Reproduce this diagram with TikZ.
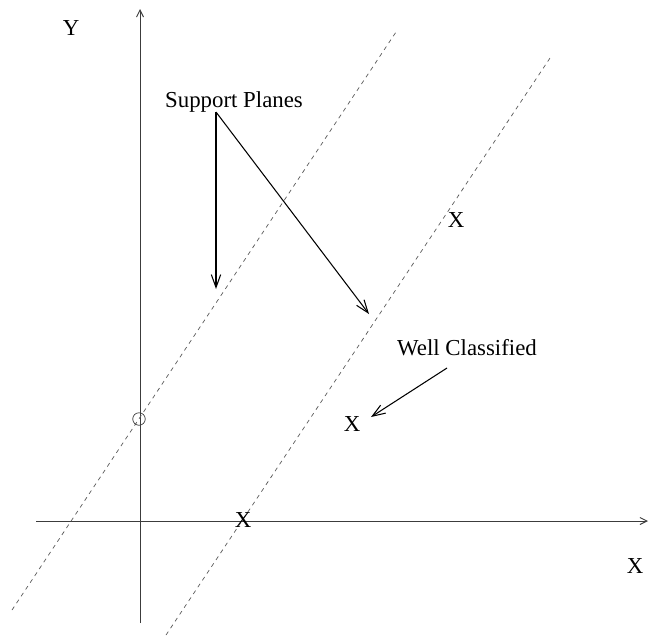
\documentclass[tikz,border=0pt]{standalone}
\usepackage{fontspec}
\setmainfont{Liberation Serif}
\usetikzlibrary{arrows.meta}
\definecolor{axgray}{RGB}{60,60,60}
\definecolor{dashgray}{RGB}{90,90,90}

\begin{document}
\begin{tikzpicture}[
  x=0.03cm, y=-0.03cm,
  % Axis lines
  ax/.style  = {draw=axgray, line width=0.8pt,
                -{Straight Barb[length=6pt,width=6pt]}},
  % Support planes (dashed)
  pl/.style  = {draw=dashgray, line width=0.6pt, dash pattern=on 3.5pt off 3.5pt},
  % Pointer arrows
  arr/.style = {draw=black, line width=0.9pt,
                -{Straight Barb[length=11pt,width=8pt,line width=0.9pt]}},
  % Labels
  lbl/.style = {font=\fontsize{19.5}{23}\selectfont, inner sep=0pt}
]
\useasboundingbox (0,0) rectangle (649,636);

% Axes
\coordinate(YB) at (140,623);
\coordinate(YT) at (140,9);
\coordinate(XL) at (36,521);
\coordinate(XR) at (648,521);
\draw[ax](YB)--(YT);
\draw[ax](XL)--(XR);

% Support planes: same slope, two offsets
\coordinate(P1a) at (12,610);
\coordinate(P1b) at (396,32);
\coordinate(P2a) at (166,635);
\coordinate(P2b) at (550,58);
\draw[pl](P1a)--(P1b);
\draw[pl](P2a)--(P2b);

% Circle on first plane
\node[draw=axgray, line width=0.6pt, circle, minimum size=12.5*0.03cm, inner sep=0pt](O) at (139,419){};

% Axis names and points
\node[lbl](YN)  at (71,28)   {Y};
\node[lbl](XN)  at (635,566) {X};
\node[lbl](X1)  at (456,220) {X};
\node[lbl](X2)  at (352,424) {X};
\node[lbl](X3)  at (243,520) {X};

% Annotations
\node[lbl](SP) at (234,102) {Support Planes};
\node[lbl](WC) at (467,348) {Well Classified};

% Pointers from the annotations
\coordinate(SPo) at (216,112);
\coordinate(SP1) at (216,289);
\coordinate(SP2) at (369,314);
\draw[arr](SPo)--(SP1);
\draw[arr](SPo)--(SP2);

\coordinate(WCo) at (447,368);
\coordinate(WC1) at (371,417);
\draw[arr](WCo)--(WC1);

\end{tikzpicture}
\end{document}
